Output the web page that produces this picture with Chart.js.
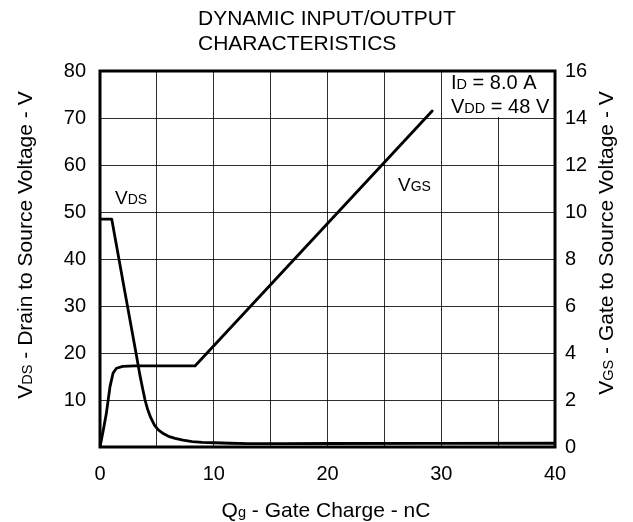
<!DOCTYPE html>
<html>
<head>
<meta charset="utf-8">
<script src="https://cdn.jsdelivr.net/npm/chart.js@4/dist/chart.umd.min.js"></script>
<style>
html,body{margin:0;padding:0;background:#fff;}
#wrap{width:633px;height:522px;position:relative;}
</style>
</head>
<body>
<div id="wrap"><canvas id="c" width="633" height="522"></canvas></div>
<script>
// ---- data ----
const vdsCharge = [0, 1.03, 2.2, 3.2, 3.5, 3.75, 3.96, 4.2, 4.45, 4.8, 5.15, 5.6, 6.1, 6.6, 7.3, 8.1, 9.0, 10, 11.4, 13, 16, 20, 30, 40];
const vdsVolts  = [48.5, 48.5, 32.8, 19.5, 15.4, 12.4, 10.0, 7.9, 6.3, 4.6, 3.6, 2.8, 2.2, 1.85, 1.45, 1.15, 1.0, 0.9, 0.8, 0.72, 0.72, 0.75, 0.78, 0.8];
const vgsCharge = [0, 0.3, 0.55, 0.88, 1.15, 1.45, 2.0, 3.0, 8.35, 29.2];
const vgsVolts  = [0, 0.75, 1.4, 2.57, 3.15, 3.35, 3.43, 3.45, 3.45, 14.3];
const xTickLabels = [0, 10, 20, 30, 40];
const leftTickLabels = [10, 20, 30, 40, 50, 60, 70, 80];
const rightTickLabels = [0, 2, 4, 6, 8, 10, 12, 14, 16];
const titleLines = ['DYNAMIC INPUT/OUTPUT', 'CHARACTERISTICS'];

const FONT = '"Liberation Sans", Arial, Helvetica, sans-serif';
const GRID = 'rgba(0,0,0,0.82)';

function toXY(xs, ys) { return xs.map((x, i) => ({ x: x, y: ys[i] })); }

function drawParts(ctx, parts, x, y, size, subSize, align) {
  let w = 0;
  parts.forEach(p => {
    ctx.font = (p[1] ? subSize : size) + 'px ' + FONT;
    w += ctx.measureText(p[0]).width;
  });
  let cx = x;
  if (align === 'center') cx = x - w / 2;
  else if (align === 'right') cx = x - w;
  ctx.textAlign = 'left';
  ctx.textBaseline = 'alphabetic';
  parts.forEach(p => {
    ctx.font = (p[1] ? subSize : size) + 'px ' + FONT;
    ctx.fillText(p[0], cx, y);
    cx += ctx.measureText(p[0]).width;
  });
}

const textPlugin = {
  id: 'textPlugin',
  beforeDatasetsDraw(chart) {
    const ctx = chart.ctx;
    const xs = chart.scales.x, ys = chart.scales.y;
    const ca = chart.chartArea;
    const bx = xs.getPixelForValue(30), by = ys.getPixelForValue(70);
    ctx.save();
    ctx.fillStyle = '#fff';
    ctx.fillRect(bx + 1, ca.top, ca.right - bx - 1, by - ca.top - 1);
    ctx.restore();
  },
  afterDatasetsDraw(chart) {
    const ctx = chart.ctx;
    const ca = chart.chartArea;
    ctx.save();
    ctx.fillStyle = '#000';
    ctx.strokeStyle = '#000';
    ctx.lineWidth = 3;
    ctx.strokeRect(ca.left, ca.top, ca.right - ca.left, ca.bottom - ca.top);

    ctx.font = '21px ' + FONT;
    ctx.textAlign = 'left';
    ctx.textBaseline = 'alphabetic';
    ctx.fillText(titleLines[0], 198, 25);
    ctx.fillText(titleLines[1], 198, 50);

    drawParts(ctx, [['Q', false], ['g', true], [' - Gate Charge - nC', false]], 326, 517, 21, 14.5, 'center');

    ctx.save();
    ctx.translate(32, 245);
    ctx.rotate(-Math.PI / 2);
    drawParts(ctx, [['V', false], ['DS', true], [' - Drain to Source Voltage - V', false]], 0, 0, 21, 14.5, 'center');
    ctx.restore();

    ctx.save();
    ctx.translate(613, 243);
    ctx.rotate(-Math.PI / 2);
    drawParts(ctx, [['V', false], ['GS', true], [' - Gate to Source Voltage - V', false]], 0, 0, 21, 14.5, 'center');
    ctx.restore();

    drawParts(ctx, [['V', false], ['DS', true]], 115, 204, 19, 14, 'left');
    drawParts(ctx, [['V', false], ['GS', true]], 398, 191, 19, 14, 'left');
    drawParts(ctx, [['I', false], ['D', true], [' = 8.0 A', false]], 451, 89, 20, 14.5, 'left');
    drawParts(ctx, [['V', false], ['DD', true], [' = 48 V', false]], 451, 113, 20, 14.5, 'left');
    ctx.restore();
  }
};

new Chart(document.getElementById('c'), {
  type: 'line',
  data: {
    datasets: [
      {
        label: 'VDS',
        data: toXY(vdsCharge, vdsVolts),
        yAxisID: 'y',
        borderColor: '#000',
        borderWidth: 2.8,
        pointRadius: 0,
        tension: 0,
        fill: false,
        borderJoinStyle: 'round',
        borderCapStyle: 'round'
      },
      {
        label: 'VGS',
        data: toXY(vgsCharge, vgsVolts),
        yAxisID: 'y1',
        borderColor: '#000',
        borderWidth: 2.8,
        pointRadius: 0,
        tension: 0,
        fill: false,
        borderJoinStyle: 'round',
        borderCapStyle: 'round'
      }
    ]
  },
  options: {
    responsive: false,
    animation: false,
    devicePixelRatio: 1,
    layout: { padding: { top: 71, left: 0, right: 0, bottom: 0 } },
    plugins: { legend: { display: false }, title: { display: false }, tooltip: { enabled: false } },
    scales: {
      x: {
        type: 'linear',
        min: 0, max: 40,
        afterFit(s) { s.height = 75; },
        afterBuildTicks(s) { s.ticks = [0, 5, 10, 15, 20, 25, 30, 35, 40].map(v => ({ value: v })); },
        ticks: {
          autoSkip: false, maxRotation: 0, padding: 15,
          color: '#000',
          font: { family: FONT, size: 20 },
          callback: v => (xTickLabels.includes(v) ? String(v) : '')
        },
        grid: { color: GRID, lineWidth: 1, drawTicks: false },
        border: { display: false }
      },
      y: {
        type: 'linear', position: 'left',
        min: 0, max: 80,
        afterFit(s) { s.width = 100; },
        afterBuildTicks(s) { s.ticks = [0].concat(leftTickLabels).map(v => ({ value: v })); },
        ticks: {
          padding: 14, color: '#000',
          font: { family: FONT, size: 20 },
          callback: v => (leftTickLabels.includes(v) ? String(v) : '')
        },
        grid: { color: GRID, lineWidth: 1, drawTicks: false },
        border: { display: false }
      },
      y1: {
        type: 'linear', position: 'right',
        min: 0, max: 16,
        afterFit(s) { s.width = 78; },
        afterBuildTicks(s) { s.ticks = rightTickLabels.map(v => ({ value: v })); },
        ticks: {
          padding: 10, color: '#000',
          font: { family: FONT, size: 20 },
          callback: v => String(v)
        },
        grid: { display: false, drawTicks: false },
        border: { display: false }
      }
    }
  },
  plugins: [textPlugin]
});
</script>
</body>
</html>
